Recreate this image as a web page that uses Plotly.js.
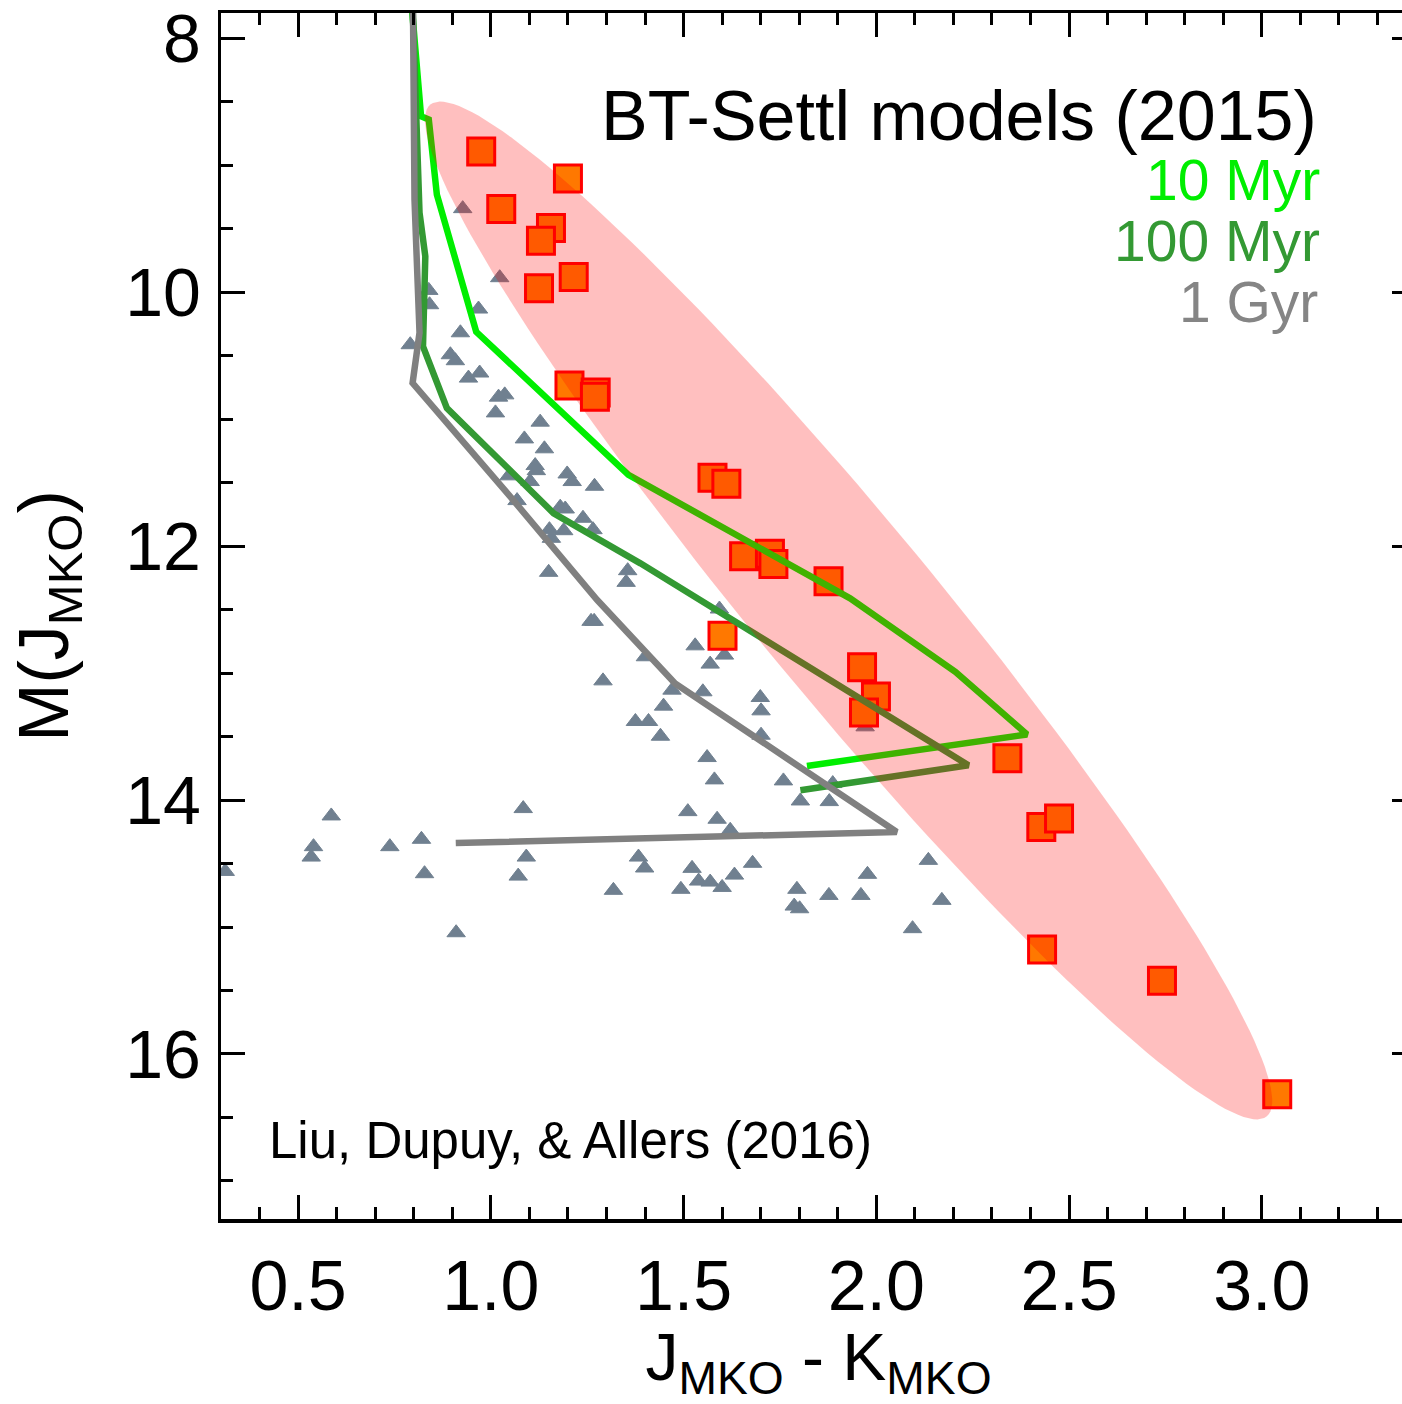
<!DOCTYPE html>
<html>
<head>
<meta charset="utf-8">
<script src="https://cdn.plot.ly/plotly-3.0.1.min.js"></script>
<style>
html,body{margin:0;padding:0;overflow:hidden;background:#fff;}
#plot{position:absolute;left:0;top:0;width:1420px;height:1404px;}
</style>
</head>
<body>
<div id="plot"></div>
<script>
// Field dwarfs (Liu, Dupuy & Allers 2016) - grey triangles
const fieldJK = [0.927,1.023,0.839,0.841,0.968,0.921,0.791,0.895,0.908,0.942,
  0.971,1.020,1.036,1.012,1.128,1.087,1.139,1.115,1.118,1.198,
  1.211,1.102,1.269,1.047,1.068,1.180,1.193,1.239,1.265,1.152,
  1.189,1.157,1.150,1.355,1.351,1.260,1.268,1.401,1.291,1.448,
  1.375,1.409,1.440,1.084,0.586,0.540,0.534,0.738,0.820,0.828,
  0.910,1.092,1.071,1.318,1.383,1.399,0.311,1.593,1.530,1.606,
  1.569,1.470,1.550,1.699,1.701,1.701,1.971,1.561,1.580,1.759,
  1.887,1.803,1.878,1.511,1.587,1.621,1.522,1.539,1.493,1.569,
  1.600,1.632,1.679,1.794,1.787,1.801,1.877,1.960,1.977,2.135,
  2.170,2.094];
const fieldMJ = [9.341,9.885,9.985,10.098,10.132,10.319,10.413,10.492,10.539,10.676,
  10.636,10.826,10.808,10.950,11.023,11.155,11.233,11.365,11.405,11.431,
  11.491,11.491,11.528,11.446,11.641,11.693,11.707,11.780,11.870,11.870,
  11.878,11.938,12.206,12.193,12.285,12.592,12.592,12.871,13.061,13.260,
  13.381,13.381,13.497,14.067,14.125,14.367,14.449,14.367,14.309,14.580,
  15.045,14.449,14.599,14.711,14.449,14.535,14.562,12.495,12.785,12.858,
  12.929,13.134,13.147,13.192,13.297,13.489,13.423,13.665,13.841,13.849,
  13.870,14.007,14.012,14.091,14.151,14.238,14.538,14.638,14.703,14.646,
  14.688,14.591,14.498,14.703,14.835,14.856,14.751,14.751,14.585,14.475,
  14.790,15.013];

// Young objects - orange squares
const youngJK = [0.975,1.200,1.027,1.156,1.130,1.215,1.125,1.204,1.272,1.270,
  1.575,1.611,1.657,1.724,1.733,1.876,1.601,1.963,1.999,1.968,
  2.340,2.428,2.474,2.430,2.741,3.040];
const youngMJ = [8.891,9.104,9.343,9.493,9.595,9.879,9.969,10.734,10.789,10.823,
  11.460,11.509,12.080,12.059,12.140,12.277,12.706,12.953,13.184,13.310,
  13.670,14.212,14.146,15.177,15.424,16.318];

// BT-Settl isochrones
const iso10JK  = [0.795,0.819,0.839,0.860,0.962,1.357,1.932,2.205,2.391,1.820];
const iso10MJ  = [7.75,8.613,8.639,9.230,10.311,11.438,12.411,12.990,13.483,13.731];
const iso100JK = [0.797,0.815,0.830,0.824,0.886,1.163,1.388,2.239,1.803];
const iso100MJ = [7.75,9.372,9.717,10.427,10.912,11.741,12.135,13.726,13.923];
const iso1GJK  = [0.798,0.802,0.815,0.797,1.051,1.276,1.478,2.053,0.909];
const iso1GMJ  = [7.75,9.270,10.319,10.715,11.612,12.424,13.081,14.252,14.338];

// Highlight ellipse (centre and two conjugate half-axes, data units)
const ellipseCenter = [1.928, 12.506];
const ellipseHalfA = [1.085, 3.985];
const ellipseHalfB = [0.1758, -0.4427];

const xTickVals = [0.5,1.0,1.5,2.0,2.5,3.0];
const xTickText = ['0.5','1.0','1.5','2.0','2.5','3.0'];
const yTickVals = [8,10,12,14,16];
const yTickText = ['8','10','12','14','16'];

const FONT = 'Liberation Sans, Arial, Helvetica, sans-serif';

const ex = [], ey = [];
for (let i = 0; i <= 180; i++) {
  const t = 2*Math.PI*i/180;
  ex.push(ellipseCenter[0] + Math.cos(t)*ellipseHalfA[0] + Math.sin(t)*ellipseHalfB[0]);
  ey.push(ellipseCenter[1] + Math.cos(t)*ellipseHalfA[1] + Math.sin(t)*ellipseHalfB[1]);
}

const traces = [
  {x: fieldJK, y: fieldMJ, type:'scatter', mode:'markers', hoverinfo:'skip',
   marker:{symbol:'triangle-up', size:16, color:'#708090', line:{width:1, color:'#708090'}}},
  {x: youngJK, y: youngMJ, type:'scatter', mode:'markers', hoverinfo:'skip',
   marker:{symbol:'square', size:27, color:'#ff7800', line:{width:3, color:'#ff0000'}}},
  {x: iso10JK, y: iso10MJ, type:'scatter', mode:'lines', hoverinfo:'skip',
   line:{color:'#00ee00', width:6.5}},
  {x: iso100JK, y: iso100MJ, type:'scatter', mode:'lines', hoverinfo:'skip',
   line:{color:'#339933', width:6.5}},
  {x: iso1GJK, y: iso1GMJ, type:'scatter', mode:'lines', hoverinfo:'skip',
   line:{color:'#808080', width:6.5}},
  {x: ex, y: ey, type:'scatter', mode:'lines', fill:'toself', hoverinfo:'skip',
   fillcolor:'rgba(255,0,0,0.25)', line:{width:0, color:'rgba(0,0,0,0)'}}
];

const layout = {
  width: 1420, height: 1404,
  margin: {l:221, r:4, t:13, b:185},
  paper_bgcolor:'#fff', plot_bgcolor:'#fff',
  showlegend:false,
  font:{family:FONT, color:'#000'},
  xaxis: {
    range:[0.3, 3.4], showgrid:false, zeroline:false,
    showline:true, linewidth:3.5, linecolor:'#000', mirror:'ticks',
    ticks:'inside', ticklen:24, tickwidth:3, tickcolor:'#000',
    tickvals:xTickVals, ticktext:xTickText,
    tickfont:{size:70, family:FONT, color:'#000'},
    ticklabelstandoff: 3,
    minor:{dtick:0.1, tick0:0, ticks:'inside', ticklen:12, tickwidth:3, tickcolor:'#000', showgrid:false},
    title:{text:'J<sub>MKO</sub> - K<sub>MKO</sub>', font:{size:66, family:FONT, color:'#000'}, standoff:27}
  },
  yaxis: {
    range:[17.3, 7.8], showgrid:false, zeroline:false,
    showline:true, linewidth:3.5, linecolor:'#000', mirror:'ticks',
    ticks:'inside', ticklen:24, tickwidth:3, tickcolor:'#000',
    tickvals:yTickVals, ticktext:yTickText,
    tickfont:{size:68, family:FONT, color:'#000'},
    ticklabelstandoff: 3,
    minor:{dtick:0.5, tick0:0, ticks:'inside', ticklen:12, tickwidth:3, tickcolor:'#000', showgrid:false},
    title:{text:'M(J<sub>MKO</sub>)', font:{size:70, family:FONT, color:'#000'}, standoff:35}
  },
  annotations: [
    {xref:'paper', yref:'paper', x:0.918, y:0.9146, xanchor:'right', yanchor:'middle', showarrow:false,
     text:'BT-Settl models (2015)', font:{size:70, family:FONT, color:'#000'}, borderpad:0},
    {xref:'paper', yref:'paper', x:0.9205, y:0.8615, xanchor:'right', yanchor:'middle', showarrow:false,
     text:'10 Myr', font:{size:57, family:FONT, color:'#00ee00'}, borderpad:0},
    {xref:'paper', yref:'paper', x:0.9205, y:0.8109, xanchor:'right', yanchor:'middle', showarrow:false,
     text:'100 Myr', font:{size:57, family:FONT, color:'#339933'}, borderpad:0},
    {xref:'paper', yref:'paper', x:0.9188, y:0.7604, xanchor:'right', yanchor:'middle', showarrow:false,
     text:'1 Gyr', font:{size:57, family:FONT, color:'#858585'}, borderpad:0},
    {xref:'paper', yref:'paper', x:0.0393, y:0.0655, xanchor:'left', yanchor:'middle', showarrow:false,
     text:'Liu, Dupuy, &amp; Allers (2016)', font:{size:51, family:FONT, color:'#000'}, borderpad:0}
  ]
};

Plotly.newPlot('plot', traces, layout, {staticPlot:true, displayModeBar:false});
</script>
</body>
</html>
